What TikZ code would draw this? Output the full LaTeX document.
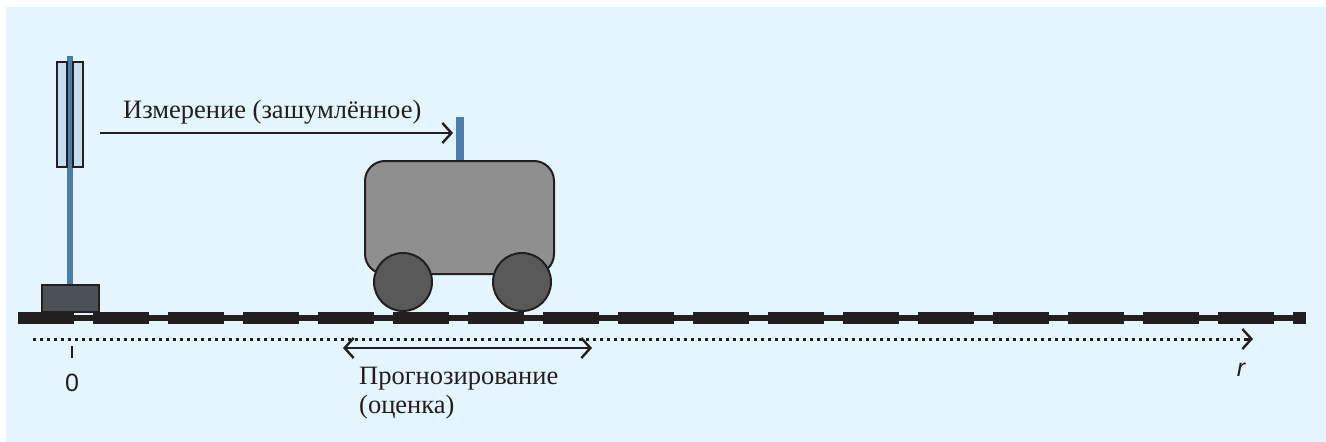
\documentclass[tikz,border=0pt]{standalone}
\usepackage{fontspec}
\setmainfont{Liberation Serif}
\newfontfamily\axisfont{Liberation Sans}
\usetikzlibrary{arrows.meta}
\definecolor{bgblue}{HTML}{E4F5FD}
\definecolor{poleblue}{HTML}{4A7DAA}
\definecolor{glassblue}{HTML}{C4DEEE}
\definecolor{basegray}{HTML}{4B5257}
\definecolor{cartgray}{HTML}{8F8F8F}
\definecolor{wheelgray}{HTML}{5A595A}
\definecolor{ink}{HTML}{231F20}
\tikzset{
  outline/.style={draw=ink, line width=1.6},
  barb/.style={-{Straight Barb[length=9,width=20,line width=2.4]}},
  label/.style={font=\fontsize{26.5}{29}\selectfont, text=ink, inner sep=0},
  axislabel/.style={font=\axisfont\fontsize{25}{28}\selectfont, text=ink, inner sep=0},
}
\begin{document}
\begin{tikzpicture}[x=1pt,y=-1pt]
\useasboundingbox (0,0) rectangle (1326,442);
\fill[bgblue] (6,7) rectangle (1326,442);

% track: thin rail with thick sleepers
\draw[ink, line width=6] (18,318) -- (1306,318);
\draw[ink, line width=12, dash pattern=on 56 off 19] (18,318) -- (1306,318);

% beacon: pole, glass panels, base
\draw[poleblue, line width=6] (70,56) -- (70,286);
\draw[outline, fill=glassblue] (57,62) rectangle (67,167);
\draw[outline, fill=glassblue] (73,62) rectangle (83,167);
\draw[outline, fill=basegray] (42,285) rectangle (99,312);

% cart
\draw[poleblue, line width=8] (460,117) -- (460,162);
\draw[outline, line width=2, fill=cartgray, rounded corners=20] (365,161) rectangle (554,274);
\draw[outline, line width=2, fill=wheelgray] (403,282) circle (29);
\draw[outline, line width=2, fill=wheelgray] (522,282) circle (29);

% measurement arrow
\coordinate (measFrom) at (100,133);
\coordinate (antenna) at (453,133);
\draw[ink, line width=2.2, barb] (measFrom) -- (antenna);
\node[label, anchor=base west] (measText) at (123,118) {Измерение (зашумлённое)};

% position axis
\coordinate (axisStart) at (33,339);
\coordinate (axisEnd) at (1253,339);
\draw[ink, line width=3, dash pattern=on 3 off 4] (axisStart) -- ([xshift=-4]axisEnd);
\draw[ink, line width=3, barb] ([xshift=-6]axisEnd) -- (axisEnd);
\coordinate (tickTop) at (72,346);
\coordinate (tickBot) at (72,358);
\draw[ink, line width=2] (tickTop) -- (tickBot);
\node[axislabel, anchor=base] (zero) at (72,391) {0};
\node[axislabel, anchor=base, font=\axisfont\itshape\fontsize{25}{28}\selectfont] (rlabel) at (1241,376) {r};

% prediction span
\coordinate (predL) at (343,348);
\coordinate (predR) at (592,348);
\draw[ink, line width=2, {Straight Barb[length=9,width=20,line width=2.4]}-{Straight Barb[length=9,width=20,line width=2.4]}] (predL) -- (predR);
\node[label, anchor=base west] (predText) at (359,384) {Прогнозирование};
\node[label, anchor=base west] (predText2) at (359,413) {(оценка)};
\end{tikzpicture}
\end{document}
